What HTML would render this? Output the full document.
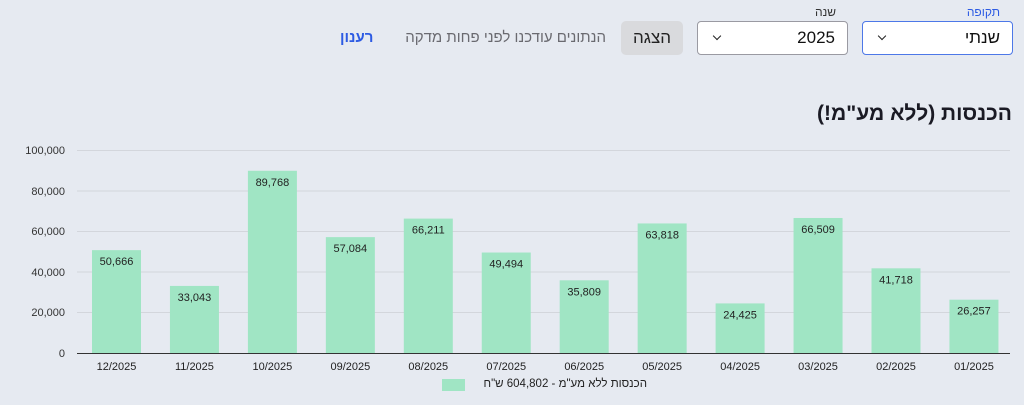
<!DOCTYPE html>
<html><head><meta charset="utf-8"><style>
body{margin:0;width:1024px;height:405px;background:#e6eaf1;font-family:"Liberation Sans","Noto Sans CJK SC",sans-serif;position:relative;overflow:hidden}
.a{position:absolute;white-space:nowrap}
.box{position:absolute;background:#fff;border:1px solid #9a9aa2;border-radius:4px;box-sizing:border-box;height:34px;top:21px}
.chev{position:absolute;left:16px;top:11px;width:5px;height:5px;border-right:1.6px solid #222;border-bottom:1.6px solid #222;transform:rotate(45deg)}
</style></head><body>
<div class="a" style="right:24px;top:5px;font-size:12px;color:#2d5be3">תקופה</div>
<div class="a" style="left:815px;top:5px;font-size:12px;color:#333">שנה</div>
<div class="box" style="left:862px;width:151px;border-color:#4d78e8">
 <span class="a" style="right:12px;top:6px;font-size:17px;color:#111">שנתי</span><span class="chev"></span></div>
<div class="box" style="left:697px;width:151px">
 <span class="a" style="right:12px;top:6px;font-size:17px;color:#111">2025</span><span class="chev"></span></div>
<div class="a" style="left:621px;top:21px;width:62px;height:34px;background:#d9dadd;border-radius:5px;text-align:center;line-height:34px;font-size:17px;color:#222">הצגה</div>
<div class="a" style="left:390px;top:29px;width:216px;text-align:right;font-size:15px;color:#6a6a70" dir="rtl">הנתונים עודכנו לפני פחות מדקה</div>
<div class="a" style="left:340px;top:29px;font-size:15px;color:#2d5be3;font-weight:bold">רענון</div>
<div class="a" style="right:12px;top:102px;font-size:21px;font-weight:bold;color:#1a1a24" dir="rtl">הכנסות (ללא מע"מ!)</div>
<div class="a" style="left:470px;top:378px;width:177px;text-align:right;font-size:11.5px;color:#222" dir="rtl">הכנסות ללא מע"מ - 604,802 ש"ח</div>
<svg class="a" style="left:0;top:0" width="1024" height="405" font-family="Liberation Sans, sans-serif">
<g stroke="#d3d6dc" stroke-width="1">
<line x1="77" x2="1010" y1="150.5" y2="150.5"/><line x1="77" x2="1010" y1="191" y2="191"/><line x1="77" x2="1010" y1="231.5" y2="231.5"/><line x1="77" x2="1010" y1="272" y2="272"/><line x1="77" x2="1010" y1="312.5" y2="312.5"/>
</g>
<g font-size="11" fill="#333" text-anchor="end">
<text x="65" y="154">100,000</text><text x="65" y="195">80,000</text><text x="65" y="235">60,000</text><text x="65" y="276">40,000</text><text x="65" y="316">20,000</text><text x="65" y="357">0</text>
</g>
<g id="bars"></g>
<line x1="77" x2="1010" y1="353.5" y2="353.5" stroke="#333" stroke-width="1"/>
<rect x="442" y="379" width="23" height="12" fill="#a0e5c4"/>
</svg>
<script>
var v=[50666,33043,89768,57084,66211,49494,35809,63818,24425,66509,41718,26257],
l=["12/2025","11/2025","10/2025","09/2025","08/2025","07/2025","06/2025","05/2025","04/2025","03/2025","02/2025","01/2025"],s="";
for(var i=0;i<12;i++){var c=116.5+i*77.95,h=v[i]*0.00203,y=353-h;
s+='<rect x="'+(c-24.5)+'" y="'+y+'" width="49" height="'+h+'" fill="#a0e5c4"/>';
s+='<text x="'+c+'" y="'+(y+15)+'" font-size="11" fill="#222" text-anchor="middle">'+v[i].toLocaleString("en-US")+'</text>';
s+='<text x="'+c+'" y="370" font-size="11" fill="#222" text-anchor="middle">'+l[i]+'</text>';}
document.getElementById("bars").innerHTML=s;
</script>
</body></html>
